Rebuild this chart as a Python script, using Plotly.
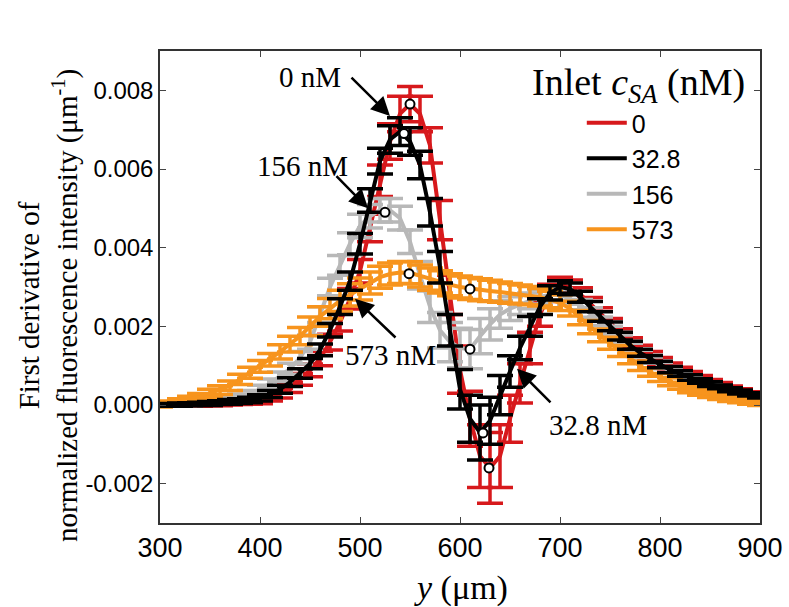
import plotly.graph_objects as go

# y position (um)
y_um = [300, 310, 320, 330, 340, 350, 360, 370, 380, 390,
        400, 410, 420, 430, 440, 450, 460, 470, 480, 490,
        500, 510, 520, 530, 540, 550, 560, 570, 580, 590,
        600, 610, 620, 630, 640, 650, 660, 670, 680, 690,
        700, 710, 720, 730, 740, 750, 760, 770, 780, 790,
        800, 810, 820, 830, 840, 850, 860, 870, 880, 890, 900]

# first derivative values for each inlet concentration
d_0 = [0.0, 0.00001, 0.00001, 0.00002, 0.00002, 0.00003, 0.00004, 0.00006, 0.00008, 0.0001,
       0.00013, 0.0002, 0.0003, 0.00045, 0.00065, 0.00088, 0.00118, 0.0016, 0.0021, 0.0027,
       0.0034, 0.0045, 0.0057, 0.0067, 0.0074, 0.00765, 0.0074, 0.0066, 0.0047, 0.0028,
       0.0009, -0.00035, -0.0013, -0.0016, -0.0013, -0.00035, 0.00055, 0.00145, 0.0023, 0.00285,
       0.00305, 0.003, 0.00282, 0.00258, 0.00233, 0.00207, 0.00182, 0.0016, 0.00142, 0.00126,
       0.00112, 0.00099, 0.00088, 0.00078, 0.00068, 0.00059, 0.00051, 0.00043, 0.00036, 0.00029, 0.00023]
e_0 = [0.00003, 0.00004, 0.00004, 0.00005, 0.00005, 0.00005, 0.00006, 0.00006, 0.00007, 0.00008,
       0.0001, 0.0001, 0.00012, 0.00013, 0.00015, 0.00016, 0.00018, 0.0002, 0.00022, 0.00026,
       0.0003, 0.00035, 0.0004, 0.00045, 0.00045, 0.00045, 0.00045, 0.00045, 0.0005, 0.0005,
       0.0006, 0.0007, 0.0008, 0.0009, 0.0008, 0.0006, 0.0005, 0.0004, 0.0003, 0.00022,
       0.0002, 0.00018, 0.00016, 0.00015, 0.00014, 0.00013, 0.00012, 0.00011, 0.0001, 0.0001,
       0.00009, 0.00008, 0.00008, 0.00007, 0.00007, 0.00006, 0.00006, 0.00005, 0.00005, 0.00005, 0.00004]

d_32 = [0.0, 0.00001, 0.00001, 0.00002, 0.00003, 0.00004, 0.00006, 0.00008, 0.0001, 0.00013,
        0.00018, 0.00028, 0.0004, 0.00058, 0.0008, 0.00105, 0.0014, 0.0019, 0.0025, 0.00315,
        0.0041, 0.0052, 0.0062, 0.00675, 0.00695, 0.0067, 0.0061, 0.0049, 0.0035, 0.0019,
        0.0004, -0.00035, -0.0007, -0.0004, 0.00025, 0.00085, 0.00145, 0.002, 0.0025, 0.00285,
        0.003, 0.00295, 0.00275, 0.0025, 0.00225, 0.002, 0.00175, 0.00152, 0.00133, 0.00117,
        0.00103, 0.0009, 0.0008, 0.0007, 0.00061, 0.00053, 0.00046, 0.00039, 0.00033, 0.00027, 0.00022]
e_32 = [0.00003, 0.00003, 0.00004, 0.00004, 0.00004, 0.00005, 0.00005, 0.00006, 0.00006, 0.00007,
        0.00008, 0.00009, 0.0001, 0.00011, 0.00012, 0.00013, 0.00015, 0.00017, 0.0002, 0.00023,
        0.00026, 0.0003, 0.00033, 0.00035, 0.00035, 0.00035, 0.00035, 0.00035, 0.0004, 0.0004,
        0.0005, 0.0006, 0.0007, 0.0006, 0.0005, 0.0004, 0.0003, 0.00025, 0.0002, 0.00018,
        0.00016, 0.00015, 0.00014, 0.00013, 0.00012, 0.00011, 0.0001, 0.0001, 0.00009, 0.00009,
        0.00008, 0.00008, 0.00007, 0.00007, 0.00006, 0.00006, 0.00005, 0.00005, 0.00005, 0.00004, 0.00004]

d_156 = [0.0, 0.00001, 0.00002, 0.00003, 0.00005, 0.00007, 0.0001, 0.00014, 0.0002, 0.00028,
         0.0004, 0.00055, 0.00072, 0.00092, 0.0012, 0.0016, 0.0023, 0.003, 0.00355, 0.0041,
         0.00455, 0.0048, 0.00495, 0.00495, 0.00475, 0.00415, 0.0033, 0.0025, 0.0019, 0.0016,
         0.00145, 0.00142, 0.00175, 0.00205, 0.0023, 0.00245, 0.00255, 0.00265, 0.00275, 0.0028,
         0.0028, 0.0027, 0.00255, 0.00235, 0.00213, 0.0019, 0.00168, 0.00148, 0.0013, 0.00114,
         0.001, 0.00087, 0.00076, 0.00066, 0.00057, 0.00049, 0.00042, 0.00035, 0.00029, 0.00023, 0.00018]
e_156 = [0.00003, 0.00004, 0.00004, 0.00005, 0.00005, 0.00006, 0.00006, 0.00007, 0.00008, 0.00009,
         0.0001, 0.00011, 0.00012, 0.00014, 0.00016, 0.00018, 0.0002, 0.00022, 0.00025, 0.00028,
         0.0003, 0.0003, 0.0003, 0.0003, 0.0003, 0.0003, 0.00035, 0.0004, 0.00045, 0.0005,
         0.0005, 0.0005, 0.00045, 0.0004, 0.00035, 0.0003, 0.00025, 0.0002, 0.00018, 0.00016,
         0.00015, 0.00014, 0.00013, 0.00012, 0.00011, 0.0001, 0.0001, 0.00009, 0.00009, 0.00008,
         0.00008, 0.00007, 0.00007, 0.00006, 0.00006, 0.00005, 0.00005, 0.00005, 0.00004, 0.00004, 0.00004]

d_573 = [0.0, 0.00004, 0.00009, 0.00014, 0.0002, 0.0003, 0.00038, 0.00049, 0.00065, 0.00082,
         0.00098, 0.00115, 0.00135, 0.00155, 0.00175, 0.002, 0.00225, 0.00245, 0.00265, 0.0028,
         0.00295, 0.0031, 0.00325, 0.00333, 0.00337, 0.00336, 0.00328, 0.0032, 0.00313, 0.00306,
         0.003, 0.00296, 0.00293, 0.0029, 0.00287, 0.00284, 0.00281, 0.00278, 0.00274, 0.00268,
         0.0026, 0.00245, 0.00222, 0.00198, 0.00177, 0.00157, 0.00137, 0.00118, 0.001, 0.00084,
         0.0007, 0.00059, 0.00049, 0.0004, 0.00033, 0.00027, 0.00021, 0.00016, 0.00012, 0.00008, 0.00005]
e_573 = [0.00005, 0.00006, 0.00007, 0.00008, 0.00009, 0.0001, 0.00011, 0.00012, 0.00013, 0.00014,
         0.00015, 0.00016, 0.00018, 0.0002, 0.00022, 0.00024, 0.00025, 0.00026, 0.00027, 0.00028,
         0.00028, 0.00028, 0.00028, 0.00028, 0.00028, 0.00028, 0.00028, 0.00028, 0.00028, 0.00028,
         0.00028, 0.00028, 0.00028, 0.00027, 0.00026, 0.00025, 0.00024, 0.00023, 0.00022, 0.00021,
         0.0002, 0.00019, 0.00018, 0.00017, 0.00016, 0.00015, 0.00014, 0.00013, 0.00012, 0.00011,
         0.0001, 0.0001, 0.00009, 0.00009, 0.00008, 0.00008, 0.00007, 0.00007, 0.00006, 0.00006, 0.00006]

# highlighted extremum points (open circles)
ext_x = [550, 629, 544, 623, 525, 610, 549, 610]
ext_y = [0.00765, -0.0016, 0.0069, -0.00071, 0.0049, 0.00142, 0.00334, 0.00295]

series_names = ["0", "32.8", "156", "573"]
series_data = [d_0, d_32, d_156, d_573]
series_err = [e_0, e_32, e_156, e_573]
series_colors = ["#d7191c", "#000000", "#b8b8b8", "#f7941d"]
draw_order = [0, 2, 3, 1]

y_ticks = [-0.002, 0.000, 0.002, 0.004, 0.006, 0.008]
y_tick_text = ["-0.002", "0.000", "0.002", "0.004", "0.006", "0.008"]
x_ticks = [300, 400, 500, 600, 700, 800, 900]

SERIF = "Liberation Serif, Times New Roman, serif"
SANS = "Liberation Sans, Arial, sans-serif"

fig = go.Figure()
for i in draw_order:
    fig.add_trace(go.Scatter(
        x=y_um, y=series_data[i], name=series_names[i], mode="lines",
        legendgroup="g" + str(i),
        line=dict(color=series_colors[i], width=4),
        error_y=dict(type="data", array=series_err[i], visible=True,
                     color=series_colors[i], thickness=3.5, width=13),
        legendrank=i + 1,
    ))

fig.add_trace(go.Scatter(
    x=ext_x, y=ext_y, mode="markers", showlegend=False,
    marker=dict(symbol="circle", size=9, color="white",
                line=dict(color="black", width=2)),
))

# text labels with arrows
labels = [("0 nM", 450, 0.00834, 490, 0.00836, 530, 0.00735),
          ("156 nM", 442, 0.00608, 475, 0.00586, 508, 0.0050),
          ("573 nM", 530, 0.00128, 537, 0.00168, 495, 0.0027),
          ("32.8 nM", 738, -0.0005, 692, 0.00003, 657, 0.00092)]
for txt, tx, ty, ax0, ay0, hx, hy in labels:
    fig.add_annotation(x=tx, y=ty, text=txt, showarrow=False,
                       xanchor="center", yanchor="middle",
                       font=dict(family=SERIF, size=29, color="black"))
    fig.add_annotation(x=hx, y=hy, ax=ax0, ay=ay0, axref="x", ayref="y",
                       text="", showarrow=True, arrowhead=2, arrowsize=1.5,
                       arrowwidth=2.5, arrowcolor="black")

# legend title
fig.add_annotation(xref="paper", yref="paper", x=0.797, y=0.928,
                   xanchor="center", yanchor="middle",
                   text="Inlet <i>c</i><sub><i>SA</i></sub> (nM)", showarrow=False,
                   font=dict(family=SERIF, size=38, color="black"))

# y axis title (two lines)
fig.add_annotation(xref="paper", yref="paper", x=-0.185, y=0.46,
                   xanchor="center", yanchor="middle",
                   text="First derivative of<br>normalized fluorescence intensity (μm<sup>-1</sup>)",
                   showarrow=False, textangle=-90,
                   font=dict(family=SERIF, size=29, color="black"))

# x axis title
fig.add_annotation(xref="paper", yref="paper", x=0.502, y=-0.137,
                   xanchor="center", yanchor="middle",
                   text="<i>y</i> (μm)", showarrow=False,
                   font=dict(family=SERIF, size=34, color="black"))

fig.update_layout(
    width=789, height=607,
    margin=dict(l=160, r=29, t=51, b=84, autoexpand=False),
    paper_bgcolor="white", plot_bgcolor="white",
    showlegend=True,
    legend=dict(x=0.703, y=0.896, xanchor="left", yanchor="top",
                bgcolor="rgba(0,0,0,0)", font=dict(family=SANS, size=25, color="black"),
                itemwidth=40, tracegroupgap=2, traceorder="normal"),
    xaxis=dict(range=[300, 900], tickvals=x_ticks, ticks="inside", ticklen=6,
               showline=True, linecolor="#333333", linewidth=1.5, mirror="ticks",
               showgrid=False, zeroline=False, automargin=False,
               tickfont=dict(family=SANS, size=27, color="black")),
    yaxis=dict(range=[-0.003, 0.009], tickvals=y_ticks, ticktext=y_tick_text,
               ticks="inside", ticklen=6,
               showline=True, linecolor="#333333", linewidth=1.5, mirror="ticks",
               showgrid=False, zeroline=False, automargin=False,
               tickfont=dict(family=SANS, size=24, color="black")),
)

fig.write_html("out.html", config={"displayModeBar": False},
               post_script="document.body.style.margin='0px';")
